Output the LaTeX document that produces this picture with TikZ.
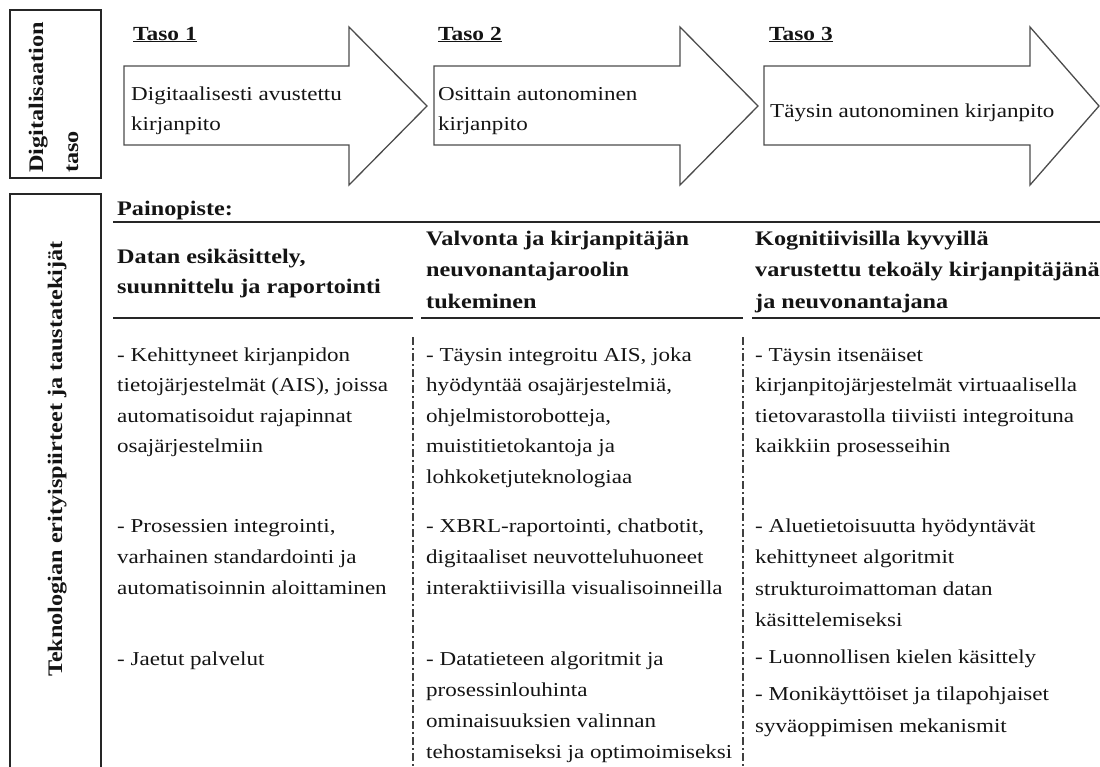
\documentclass[tikz,border=0pt]{standalone}
\usepackage{fontspec}
\setmainfont{Liberation Serif}[FakeStretch=1.17]

% stacked lines with a fixed baseline distance; the box sits on its first line
\newcommand\mlines[2]{\vtop{\baselineskip=#1\relax\lineskiplimit=-100pt\halign{##\hfil\cr#2\crcr}}}

\tikzset{
  x=1pt, y=-1pt,
  body/.style={anchor=base west, inner sep=0pt, text=black!92,
    font=\fontsize{19.7}{31}\selectfont},
  head/.style={body, font=\fontsize{20.7}{31}\selectfont\bfseries},
  level/.style={body, font=\fontsize{20}{31}\selectfont\bfseries},
  stage/.style={draw=black!70, line width=1.3pt, fill=white, line join=miter},
  rule/.style={draw=black!85, line width=1.2pt},
  sep/.style={draw=black!75, line width=1.1pt,
    dash pattern=on 8pt off 3pt on 2pt off 3pt},
  sidebox/.style={draw=black!85, line width=1.3pt}
}

\begin{document}
\begin{tikzpicture}
\useasboundingbox (0,0) rectangle (1100,766);

% side captions
\draw[sidebox] (10,10) rectangle (101,178);
\node[head, rotate=90] (digi) at (43,173) {\mlines{35pt}{Digitalisaation\cr taso}};
\draw[sidebox] (10,194) rectangle (101,790);
\node[head, rotate=90, anchor=base] (tekno) at (62,459) {Teknologian erityispiirteet ja taustatekijät};

% stage arrows
\draw[stage] (124,66) -- (349,66) -- (349,27) -- (427,106) -- (349,185) -- (349,145) -- (124,145) -- cycle;
\draw[stage] (434,66) -- (680,66) -- (680,27) -- (758,106) -- (680,185) -- (680,145) -- (434,145) -- cycle;
\draw[stage] (764,66) -- (1030,66) -- (1030,27) -- (1099,106) -- (1030,185) -- (1030,145) -- (764,145) -- cycle;

\node[level] (t1) at (133,40) {\underline{Taso 1}};
\node[level] (t2) at (438,40) {\underline{Taso 2}};
\node[level] (t3) at (769,40) {\underline{Taso 3}};

\node[body] (a1) at (131,100) {\mlines{30pt}{Digitaalisesti avustettu\cr kirjanpito}};
\node[body] (a2) at (438,100) {\mlines{30pt}{Osittain autonominen\cr kirjanpito}};
\node[body] (a3) at (770,117) {Täysin autonominen kirjanpito};

% focus header
\node[head] (paino) at (117,215) {Painopiste:};
\draw[rule] (113,222) -- (1100,222);

\node[head] (h1) at (117,263) {\mlines{30pt}{Datan esikäsittely,\cr suunnittelu ja raportointi}};
\node[head] (h2) at (426,245) {\mlines{31.5pt}{Valvonta ja kirjanpitäjän\cr neuvonantajaroolin\cr tukeminen}};
\node[head] (h3) at (755,245) {\mlines{31.5pt}{Kognitiivisilla kyvyillä\cr varustettu tekoäly kirjanpitäjänä\cr ja neuvonantajana}};

\draw[rule] (113,318) -- (413,318);
\draw[rule] (421,318) -- (743,318);
\draw[rule] (752,318) -- (1100,318);

% column separators
\draw[sep] (413,337) -- (413,766);
\draw[sep] (743,337) -- (743,766);

% column 1
\node[body] (c1a) at (117,361) {\mlines{30.5pt}{- Kehittyneet kirjanpidon\cr tietojärjestelmät (AIS), joissa\cr automatisoidut rajapinnat\cr osajärjestelmiin}};
\node[body] (c1b) at (117,532) {\mlines{31pt}{- Prosessien integrointi,\cr varhainen standardointi ja\cr automatisoinnin aloittaminen}};
\node[body] (c1c) at (117,665) {- Jaetut palvelut};

% column 2
\node[body] (c2a) at (426,361) {\mlines{30.5pt}{- Täysin integroitu AIS, joka\cr hyödyntää osajärjestelmiä,\cr ohjelmistorobotteja,\cr muistitietokantoja ja\cr lohkoketjuteknologiaa}};
\node[body] (c2b) at (426,532) {\mlines{31pt}{- XBRL-raportointi, chatbotit,\cr digitaaliset neuvotteluhuoneet\cr interaktiivisilla visualisoinneilla}};
\node[body] (c2c) at (426,665) {\mlines{31pt}{- Datatieteen algoritmit ja\cr prosessinlouhinta\cr ominaisuuksien valinnan\cr tehostamiseksi ja optimoimiseksi}};

% column 3
\node[body] (c3a) at (755,361) {\mlines{30.5pt}{- Täysin itsenäiset\cr kirjanpitojärjestelmät virtuaalisella\cr tietovarastolla tiiviisti integroituna\cr kaikkiin prosesseihin}};
\node[body] (c3b) at (755,532) {\mlines{31.5pt}{- Aluetietoisuutta hyödyntävät\cr kehittyneet algoritmit\cr strukturoimattoman datan\cr käsittelemiseksi}};
\node[body] (c3c) at (755,663) {- Luonnollisen kielen käsittely};
\node[body] (c3d) at (755,700) {\mlines{32pt}{- Monikäyttöiset ja tilapohjaiset\cr syväoppimisen mekanismit}};

\end{tikzpicture}
\end{document}
